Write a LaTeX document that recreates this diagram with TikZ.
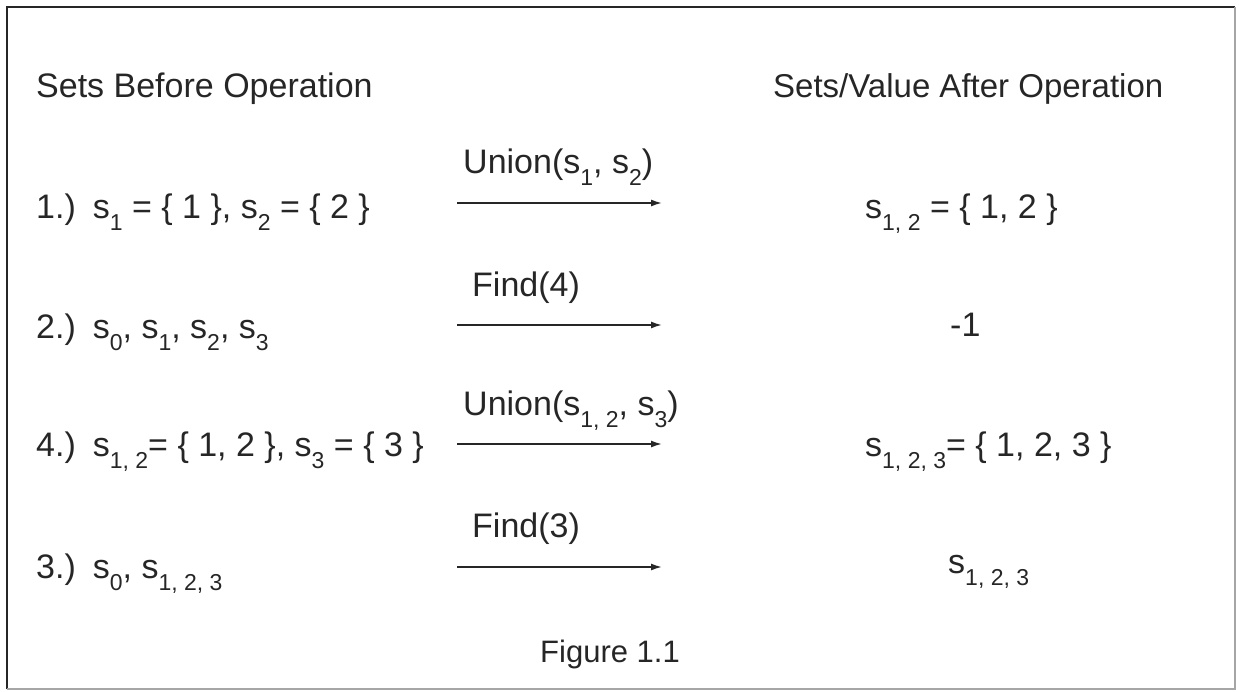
\documentclass[tikz,border=0pt]{standalone}
\usepackage{fontspec}
\setmainfont{Liberation Sans}
\usetikzlibrary{arrows.meta}
\colorlet{txtGray}{black!85}
\newcommand{\low}[1]{\raisebox{-0.36em}{\fontsize{23}{23}\selectfont #1}}

\begin{document}
\begin{tikzpicture}[x = 1pt, y = -1pt,
	every node/.style = {anchor = base west, inner sep = 0pt, text = txtGray, font = \fontsize{34}{40}\selectfont},
	op/.style = {-{Latex[length = 11pt, width = 7pt]}, line width = 1.6pt, txtGray}]
		\useasboundingbox (0, 0) rectangle (1239, 691);
		\draw [line width = 2.4pt, black!85] (7, 689) |- (1235, 7);
		\draw [line width = 2pt, black!35] (1235, 7) |- (7, 689);
		%%%%%%%%%%%%%
		\node (hb) at (36, 97) {Sets Before Operation};
		\node [font = \fontsize{33}{40}\selectfont] (ha) at (773, 97) {Sets/Value After Operation};
		%%%%%%%%%%%%%
		\node (b1) at (36, 218) {1.)\enspace s\low{1} = \{ 1 \}, s\low{2} = \{ 2 \}};
		\node (b2) at (36, 338) {2.)\enspace s\low{0}, s\low{1}, s\low{2}, s\low{3}};
		\node (b4) at (36, 456) {4.)\enspace s\low{1, 2}= \{ 1, 2 \}, s\low{3} = \{ 3 \}};
		\node (b3) at (36, 578) {3.)\enspace s\low{0}, s\low{1, 2, 3}};
		%%%%%%%%%%%%%
		\node (a1) at (865, 218) {s\low{1, 2} = \{ 1, 2 \}};
		\node (a2) at (950, 336) {-1};
		\node (a4) at (865, 456) {s\low{1, 2, 3}= \{ 1, 2, 3 \}};
		\node (a3) at (948, 573) {s\low{1, 2, 3}};
		%%%%%%%%%%%%%
		\coordinate (s1) at (457, 203); \coordinate (e1) at (662, 203);
		\coordinate (s2) at (457, 325); \coordinate (e2) at (662, 325);
		\coordinate (s4) at (457, 444); \coordinate (e4) at (662, 444);
		\coordinate (s3) at (457, 567); \coordinate (e3) at (662, 567);
		\node (o1) at (463, 173) {Union(s\low{1}, s\low{2})};
		\node (o2) at (472, 296) {Find(4)};
		\node (o4) at (463, 415) {Union(s\low{1, 2}, s\low{3})};
		\node (o3) at (472, 537) {Find(3)};
		\draw [op] (s1) to (e1); \draw [op] (s2) to (e2);
		\draw [op] (s4) to (e4); \draw [op] (s3) to (e3);
		%%%%%%%%%%%%%
		\node [font = \fontsize{31}{36}\selectfont] (fig) at (540, 662) {Figure 1.1};
\end{tikzpicture}
\end{document}
